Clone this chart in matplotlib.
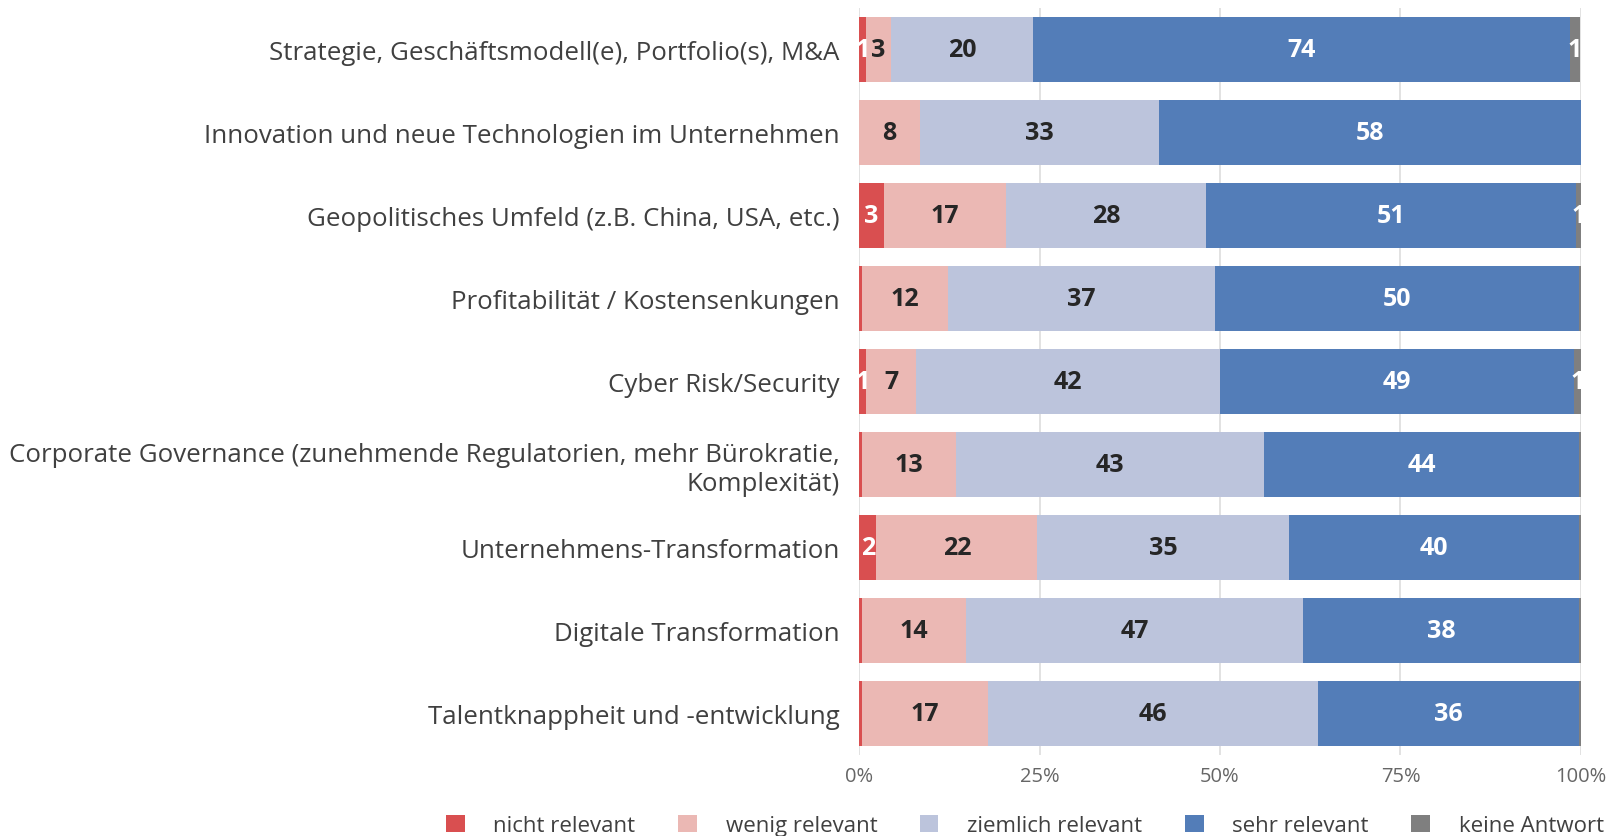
import matplotlib
matplotlib.use("Agg")
import matplotlib.pyplot as plt
import numpy as np

plt.rcParams['font.family'] = ['Open Sans', 'DejaVu Sans']

categories = [
    "Strategie, Geschäftsmodell(e), Portfolio(s), M&A",
    "Innovation und neue Technologien im Unternehmen",
    "Geopolitisches Umfeld (z.B. China, USA, etc.)",
    "Profitabilität / Kostensenkungen",
    "Cyber Risk/Security",
    "Corporate Governance (zunehmende Regulatorien, mehr Bürokratie,\nKomplexität)",
    "Unternehmens-Transformation",
    "Digitale Transformation",
    "Talentknappheit und -entwicklung",
]

series_names = ["nicht relevant", "wenig relevant", "ziemlich relevant", "sehr relevant", "keine Antwort"]
nicht = [1.0, 0.0, 3.4, 0.4, 1.0, 0.4, 2.4, 0.4, 0.4]
wenig = [3.4, 8.4, 16.9, 11.9, 6.9, 13.0, 22.3, 14.4, 17.4]
ziemlich = [19.7, 33.2, 27.8, 37.0, 42.1, 42.7, 34.8, 46.7, 45.8]
sehr = [74.4, 58.4, 51.2, 50.4, 49.1, 43.6, 40.2, 38.2, 36.1]
keine = [1.4, 0.0, 0.7, 0.3, 0.9, 0.3, 0.3, 0.3, 0.3]

colors = ["#D94F50", "#EBB8B4", "#BCC4DC", "#537DB8", "#7F7F7F"]
text_colors = ["white", "#262626", "#262626", "white", "white"]

fig = plt.figure(figsize=(16.19, 8.37), dpi=100)
ax = fig.add_axes([0.5306, 0.0968, 0.4459, 0.8925])

data = [nicht, wenig, ziemlich, sehr, keine]
y = np.arange(len(categories))
left = np.zeros(len(categories))
for vals, name, col, tcol in zip(data, series_names, colors, text_colors):
    vals = np.array(vals)
    ax.barh(y, vals, left=left, height=0.79, color=col, label=name, zorder=2)
    for yi, (l, v) in enumerate(zip(left, vals)):
        if round(v) >= 1:
            ax.text(l + v / 2, yi, str(int(round(v))), ha='center', va='center',
                    color=tcol, fontsize=18, fontweight='bold', zorder=3)
    left += vals

ax.set_xlim(0, 100)
ax.set_ylim(len(categories) - 0.5, -0.5)
ax.set_yticks(y)
ax.set_yticklabels(categories, fontsize=18.6, color="#404040", ha='right')
ax.set_xticks([0, 25, 50, 75, 100])
ax.set_xticklabels(["0%", "25%", "50%", "75%", "100%"], fontsize=14.5, color="#666666")
ax.tick_params(axis='y', length=0, pad=14)
ax.tick_params(axis='x', length=0, pad=8)
ax.grid(axis='x', color="#DDDDDD", linewidth=1.2, zorder=0)
for s in ax.spines.values():
    s.set_visible(False)

fig.legend(loc='lower center', bbox_to_anchor=(0.633, -0.024), ncol=5, frameon=False,
           fontsize=16, handlelength=0.85, handleheight=0.85, columnspacing=1.9,
           handletextpad=1.3, labelcolor="#404040")

fig.savefig("out.png", dpi=100)
